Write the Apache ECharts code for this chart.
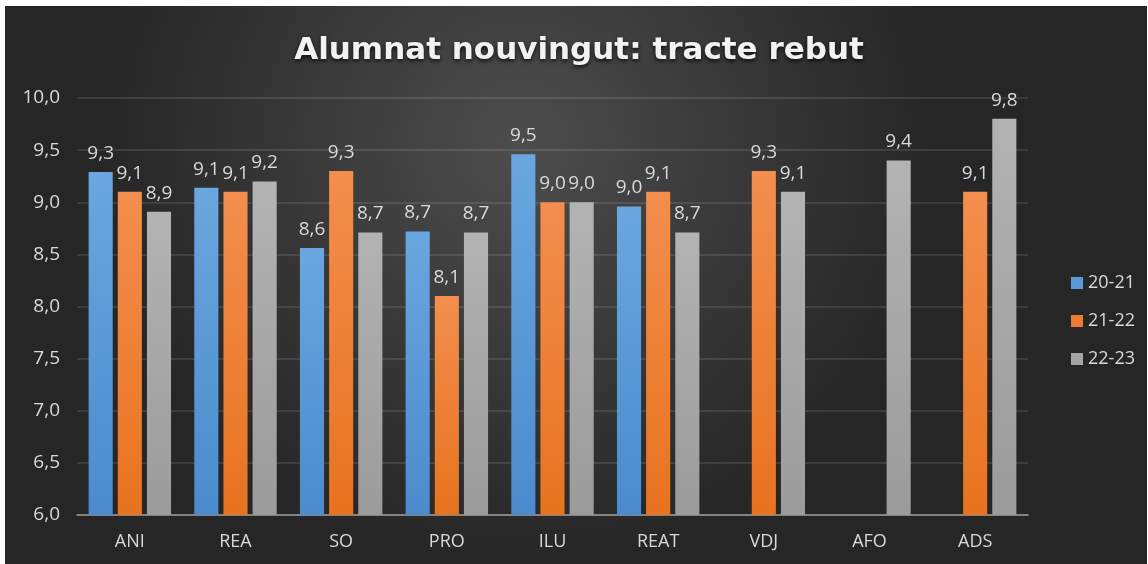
<!DOCTYPE html>
<html>
<head>
<meta charset="utf-8">
<script src="https://cdn.jsdelivr.net/npm/echarts@6/dist/echarts.min.js"></script>
<style>
  html, body { margin: 0; padding: 0; background: #ffffff; }
  #chart { position: absolute; left: 5px; top: 6px; width: 1142px; height: 558px; }
</style>
</head>
<body>
<div id="chart"></div>
<script>
const categories = ["ANI", "REA", "SO", "PRO", "ILU", "REAT", "VDJ", "AFO", "ADS"];
const seriesNames = ["20-21", "21-22", "22-23"];
const values2021 = [9.29, 9.14, 8.56, 8.72, 9.46, 8.96, null, null, null];
const values2122 = [9.10, 9.10, 9.30, 8.10, 9.00, 9.10, 9.30, null, 9.10];
const values2223 = [8.91, 9.20, 8.71, 8.71, 9.00, 8.71, 9.10, 9.40, 9.80];

const textColor = "#d9d9d9";
const fontFamily = "'Open Sans', sans-serif";

function fmt(v) {
  return v.toFixed(1).replace(".", ",");
}

function barGradient(top, bottom) {
  return new echarts.graphic.LinearGradient(0, 0, 0, 1, [
    { offset: 0, color: top },
    { offset: 1, color: bottom },
  ]);
}

const palette = [
  barGradient("#6aa7e0", "#4b8bcd"),
  barGradient("#f38e4e", "#e8731f"),
  barGradient("#b3b3b3", "#9b9b9b"),
];
const legendColors = ["#5b9bd5", "#ed7d31", "#a5a5a5"];
const dataSets = [values2021, values2122, values2223];

const chart = echarts.init(document.getElementById("chart"), null, { renderer: "canvas" });

chart.setOption({
  animation: false,
  backgroundColor: new echarts.graphic.RadialGradient(0.45, 0.25, 0.75, [
    { offset: 0, color: "#4d4d4d" },
    { offset: 1, color: "#262626" },
  ]),
  title: {
    text: "Alumnat nouvingut: tracte rebut",
    left: 569,
    top: 24,
    textAlign: "center",
    textStyle: {
      color: "#f2f2f2",
      fontFamily: "'DejaVu Sans', sans-serif",
      fontWeight: "bold",
      fontSize: 31,
      textShadowColor: "rgba(0,0,0,0.8)",
      textShadowBlur: 4,
      textShadowOffsetY: 2,
    },
  },
  legend: {
    orient: "vertical",
    left: 1061,
    top: 263,
    itemWidth: 12,
    itemHeight: 12,
    itemGap: 20,
    icon: "rect",
    textStyle: { color: textColor, fontFamily, fontSize: 18, padding: [0, 0, 0, 0] },
    data: seriesNames.map((name, i) => ({ name, itemStyle: { color: legendColors[i] } })),
  },
  grid: { left: 72, top: 92, width: 951, height: 417, containLabel: false },
  xAxis: {
    type: "category",
    data: categories,
    axisTick: { show: false },
    axisLine: { lineStyle: { color: "#9a9a9a", width: 1.5 } },
    axisLabel: { color: textColor, fontFamily, fontSize: 18, margin: 18 },
  },
  yAxis: {
    type: "value",
    min: 6,
    max: 10,
    interval: 0.5,
    axisLine: { show: false },
    axisTick: { show: false },
    axisLabel: { color: textColor, fontFamily, fontSize: 19, margin: 17, formatter: fmt },
    splitLine: { lineStyle: { color: "rgba(255,255,255,0.14)", width: 1.5 } },
  },
  series: seriesNames.map((name, i) => ({
    name,
    type: "bar",
    data: dataSets[i],
    barGap: "21%",
    barCategoryGap: "22%",
    itemStyle: { color: palette[i] },
    label: {
      show: true,
      position: "top",
      distance: 9,
      color: textColor,
      fontFamily,
      fontSize: 19,
      formatter: (p) => fmt(p.value),
    },
  })),
});
</script>
</body>
</html>
